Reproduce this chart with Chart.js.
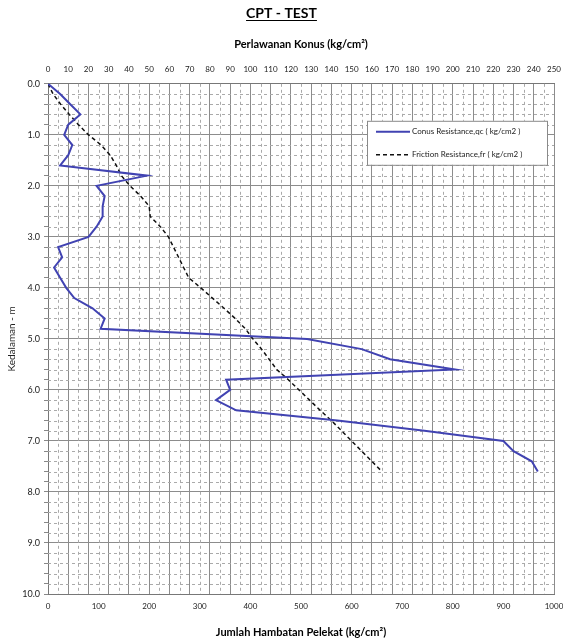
<!DOCTYPE html>
<html>
<head>
<meta charset="utf-8">
<script src="https://cdn.jsdelivr.net/npm/chart.js@4"></script>
<style>
html,body{margin:0;padding:0;background:#fff;}
#wrap{width:563px;height:639px;position:relative;}
</style>
</head>
<body>
<div id="wrap"><canvas id="c"></canvas></div>
<script>
// ---- data ----
const qcDepth = [0.0,0.2,0.4,0.6,0.8,1.0,1.2,1.4,1.6,1.8,2.0,2.2,2.4,2.6,2.8,3.0,3.2,3.4,3.6,3.8,4.0,4.2,4.4,4.6,4.7,4.8,5.0,5.2,5.4,5.6,5.8,6.0,6.2,6.4,6.6,6.8,7.0,7.2,7.4,7.6];
const qcValues = [0,6,11,16,10,8,12,10,6,49,24,28,27,27,24,20,5,7,3,6,9,13,22,28,27,26,128,155,169,201,88,90,83,93,143,186,225,230,239,242];
const frDepth = [0.0,0.2,0.4,0.6,0.8,1.0,1.2,1.4,1.6,1.8,2.0,2.2,2.4,2.6,2.8,3.0,3.2,3.4,3.6,3.8,4.0,4.2,4.4,4.6,4.8,5.0,5.2,5.4,5.6,5.8,6.0,6.2,6.4,6.6,6.8,7.0,7.2,7.4,7.6];
const frValues = [0,10,25,42,60,80,105,123,135,145,162,183,200,202,222,238,248,258,268,278,302,325,348,370,390,405,422,437,452,475,496,517,538,560,580,600,620,640,660];
const seriesNames = ["Conus Resistance,qc ( kg/cm2 )","Friction Resistance,fr ( kg/cm2 )"];
const chartTitle = "CPT - TEST";
const topAxisTitle = "Perlawanan Konus (kg/cm\u00B2)";
const bottomAxisTitle = "Jumlah Hambatan Pelekat (kg/cm\u00B2)";
const yAxisTitle = "Kedalaman - m";

const FONT = "Lato, 'Open Sans', sans-serif";
const BLUE = "#4143b2";
const isInt = v => Math.abs(v - Math.round(v)) < 1e-6;

const minorGrid = {
  id: 'minorGrid',
  beforeDatasetsDraw(chart) {
    const {ctx, chartArea: a, scales} = chart;
    ctx.save();
    ctx.strokeStyle = '#aaaaaa';
    ctx.lineWidth = 1;
    ctx.setLineDash([3, 3]);
    const x = scales.x;
    for (let v = 5; v < 250; v += 10) {
      const px = Math.round(x.getPixelForValue(v)) + 0.5;
      ctx.beginPath(); ctx.moveTo(px, a.top); ctx.lineTo(px, a.bottom); ctx.stroke();
    }
    const y = scales.y;
    for (let i = 1; i < 50; i++) {
      if (i % 5 === 0) continue;
      const py = Math.round(y.getPixelForValue(i * 0.2)) + 0.5;
      ctx.beginPath(); ctx.moveTo(a.left, py); ctx.lineTo(a.right, py); ctx.stroke();
    }
    ctx.restore();
  }
};

const boxLegend = {
  id: 'boxLegend',
  afterDraw(chart) {
    const {ctx, chartArea: a} = chart;
    const L = a.right - 187, T = a.top + 37, W = 180, H = 44;
    ctx.save();
    ctx.fillStyle = '#fff';
    ctx.fillRect(L, T, W, H);
    ctx.strokeStyle = '#8a8a8a';
    ctx.lineWidth = 1;
    ctx.strokeRect(L + 0.5, T + 0.5, W, H);
    const rows = [
      {y: T + 11, color: BLUE, dash: [], w: 2},
      {y: T + 34, color: '#111', dash: [4, 3], w: 1.5}
    ];
    ctx.font = "8px " + FONT;
    ctx.textBaseline = 'middle';
    rows.forEach((r, i) => {
      ctx.beginPath();
      ctx.setLineDash(r.dash);
      ctx.strokeStyle = r.color;
      ctx.lineWidth = r.w;
      ctx.moveTo(L + 9, r.y); ctx.lineTo(L + 43, r.y); ctx.stroke();
      ctx.setLineDash([]);
      ctx.fillStyle = '#222';
      ctx.fillText(seriesNames[i], L + 45, r.y);
    });
    ctx.restore();
  }
};

const titleUnderline = {
  id: 'titleUnderline',
  afterDraw(chart) {
    const tb = chart.titleBlock;
    if (!tb) return;
    const ctx = chart.ctx;
    ctx.save();
    ctx.font = "bold 14px " + FONT;
    const w = ctx.measureText(chartTitle).width;
    const cx = tb.left + tb.width / 2;
    const yLine = tb.top + tb.options.padding.top + 15;
    ctx.strokeStyle = '#000';
    ctx.lineWidth = 1;
    ctx.beginPath();
    ctx.moveTo(cx - w / 2, yLine + 0.5); ctx.lineTo(cx + w / 2, yLine + 0.5); ctx.stroke();
    ctx.restore();
  }
};

function fixHorizontal(h) {
  return function (s) {
    s.height = h;
    s.paddingLeft = 0;
    s.paddingRight = 9;
  };
}

new Chart(document.getElementById('c'), {
  type: 'scatter',
  data: {
    datasets: [
      {
        label: seriesNames[0],
        data: qcDepth.map((d, i) => ({x: qcValues[i], y: d})),
        xAxisID: 'x', yAxisID: 'y',
        showLine: true, borderColor: BLUE, borderWidth: 2,
        pointRadius: 0, tension: 0
      },
      {
        label: seriesNames[1],
        data: frDepth.map((d, i) => ({x: frValues[i], y: d})),
        xAxisID: 'x2', yAxisID: 'y',
        showLine: true, borderColor: '#111', borderWidth: 1.5, borderDash: [4, 3],
        pointRadius: 0, tension: 0
      }
    ]
  },
  options: {
    responsive: true,
    maintainAspectRatio: false,
    animation: false,
    layout: {padding: {left: 0, right: 0, top: 0, bottom: 0}},
    plugins: {
      legend: {display: false},
      tooltip: {enabled: false},
      title: {
        display: true, text: chartTitle, color: '#000',
        font: {family: FONT, size: 14, weight: 'bold'},
        padding: {top: 5, bottom: 5}
      }
    },
    scales: {
      x: {
        type: 'linear', position: 'top', min: 0, max: 250,
        ticks: {stepSize: 10, autoSkip: false, maxRotation: 0, color: '#222', font: {family: FONT, size: 8}, padding: 10,
          callback: v => String(v)},
        grid: {color: '#8c8c8c', lineWidth: 1, drawTicks: false},
        border: {color: '#777'},
        title: {display: true, text: topAxisTitle, color: '#000', font: {family: FONT, size: 11, weight: 'bold'}, padding: {top: 11, bottom: 0}},
        afterFit: fixHorizontal(57)
      },
      x2: {
        type: 'linear', position: 'bottom', min: 0, max: 1000,
        ticks: {stepSize: 100, autoSkip: false, maxRotation: 0, color: '#222', font: {family: FONT, size: 8}, padding: 8,
          callback: v => String(v)},
        grid: {drawOnChartArea: false, drawTicks: false},
        border: {color: '#777'},
        title: {display: true, text: bottomAxisTitle, color: '#000', font: {family: FONT, size: 11, weight: 'bold'}, padding: {top: 6, bottom: 0}},
        afterFit: fixHorizontal(45)
      },
      y: {
        type: 'linear', reverse: true, min: 0, max: 10,
        ticks: {
          stepSize: 0.2, autoSkip: false, color: '#222', font: {family: FONT, size: 9}, padding: 4,
          callback: v => isInt(v) ? Number(v).toFixed(1) : ''
        },
        grid: {
          color: c => (c.tick && isInt(c.tick.value)) ? '#8c8c8c' : 'rgba(0,0,0,0)',
          tickColor: '#888', tickLength: 4
        },
        border: {color: '#777'},
        title: {display: true, text: yAxisTitle, color: '#222', font: {family: FONT, size: 10}, padding: {top: 6, bottom: 0}},
        afterFit(s) { s.width = 48; }
      }
    }
  },
  plugins: [minorGrid, boxLegend, titleUnderline]
});
</script>
</body>
</html>
